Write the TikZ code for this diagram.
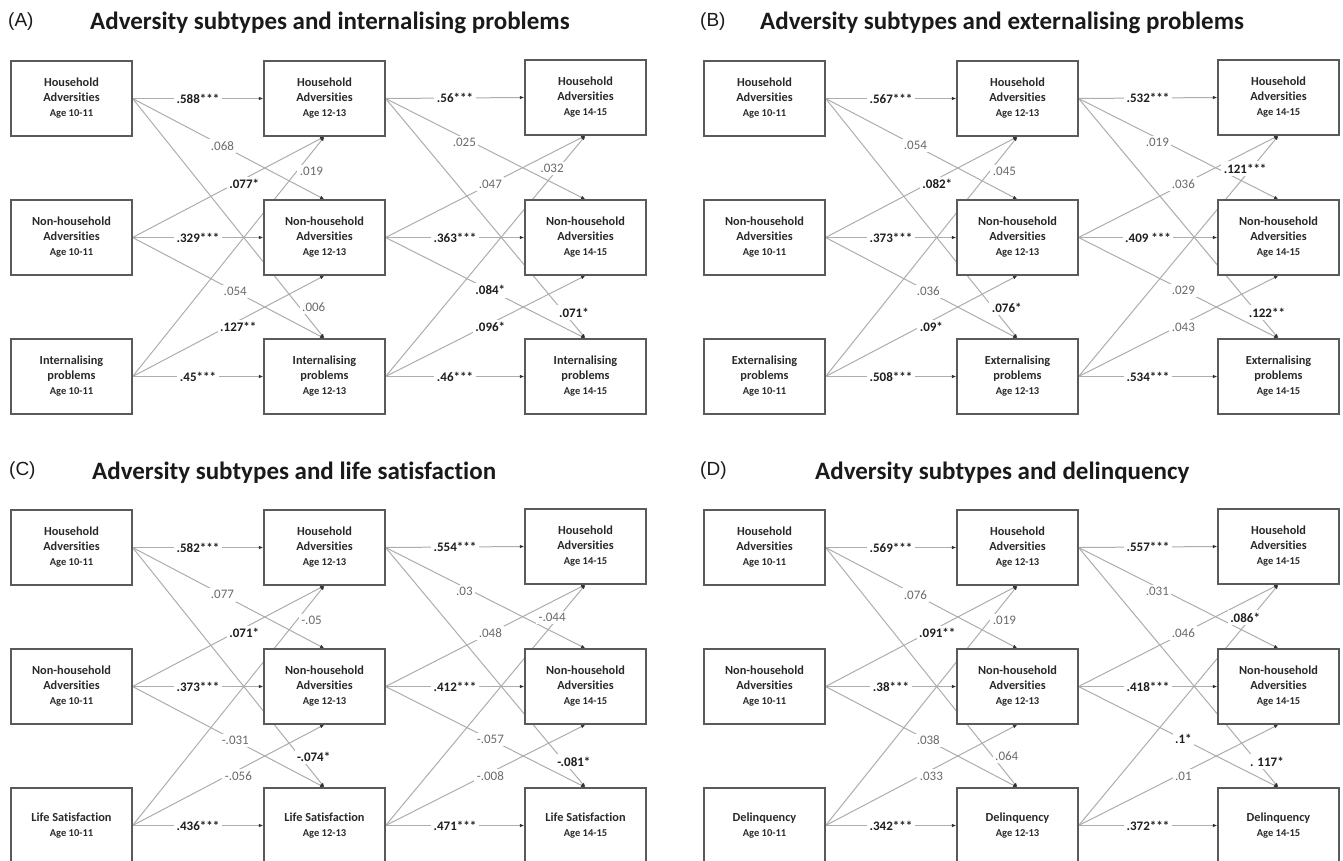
\documentclass[tikz,border=0pt]{standalone}
\usepackage{fontspec}
\setmainfont[Ligatures=NoCommon]{Carlito}
\newfontfamily\parenfont{Liberation Sans}
\usetikzlibrary{arrows.meta}

\definecolor{boxline}{HTML}{5A5A5A}
\definecolor{boxtext}{HTML}{2A2A2A}
\definecolor{pathline}{HTML}{ADADAD}
\definecolor{tipcol}{HTML}{333333}
\definecolor{nscol}{HTML}{6A6A6A}
\definecolor{sigcol}{HTML}{1E1E1E}
\definecolor{titlecol}{HTML}{1A1A1A}

\pgfdeclarelayer{paper}
\pgfdeclarelayer{lines}
\pgfdeclarelayer{labels}
\pgfsetlayers{paper,lines,main,labels}

% significant coefficients are set in bold and darker
\newcommand\sig{\bfseries\color{sigcol}}
% smaller type for the age line inside a box
\newcommand\agel[1]{{\fontsize{10.5}{14}\selectfont #1}}

% one path: the line goes behind the boxes, its coefficient on top of everything
\newcommand\pathlink[4][]{%
  \begin{pgfonlayer}{lines}\draw[conn] (#2) -- (#3);\end{pgfonlayer}%
  \begin{pgfonlayer}{labels}\path (#2) -- node[coef,#1]{#4} (#3);\end{pgfonlayer}}

% coefficients of the first wave-to-wave block and of the second one
\newcommand\setcoefsL[9]{\def\cfA{#1}\def\cfB{#2}\def\cfC{#3}\def\cfD{#4}\def\cfE{#5}\def\cfF{#6}\def\cfG{#7}\def\cfH{#8}\def\cfI{#9}}
\newcommand\setcoefsR[9]{\def\cfJ{#1}\def\cfK{#2}\def\cfL{#3}\def\cfM{#4}\def\cfN{#5}\def\cfO{#6}\def\cfP{#7}\def\cfQ{#8}\def\cfR{#9}}

% a 3 x 3 cross-lagged panel: #1 name prefix, #2 offset, #3 third variable
\newcommand\drawpanel[3]{%
\begin{scope}[shift={#2}]
  \node[varbox] (#1h1) at (71.5,98.5)  {Household\\Adversities\\\agel{Age 10-11}};
  \node[varbox] (#1n1) at (71.5,237.5) {Non-household\\Adversities\\\agel{Age 10-11}};
  \node[varbox] (#1i1) at (71.5,376.5) {#3\\\agel{Age 10-11}};
  \node[varbox] (#1h2) at (324.5,98.5)  {Household\\Adversities\\\agel{Age 12-13}};
  \node[varbox] (#1n2) at (324.5,237.5) {Non-household\\Adversities\\\agel{Age 12-13}};
  \node[varbox] (#1i2) at (324.5,376.5) {#3\\\agel{Age 12-13}};
  \node[varbox] (#1h3) at (585.5,97.5)  {Household\\Adversities\\\agel{Age 14-15}};
  \node[varbox] (#1n3) at (585.5,237.5) {Non-household\\Adversities\\\agel{Age 14-15}};
  \node[varbox] (#1i3) at (585.5,376.5) {#3\\\agel{Age 14-15}};
\end{scope}
  % age 10-11 -> age 12-13
  \pathlink{#1h1.east}{#1h2.west}{\cfA}
  \pathlink[pos=.468]{#1h1.east}{#1n2.north}{\cfB}
  \pathlink[pos=.871,xshift=14pt]{#1h1.east}{#1i2.north}{\cfC}
  \pathlink[pos=.582,yshift=-5pt]{#1n1.east}{#1h2.south}{\cfD}
  \pathlink{#1n1.east}{#1n2.west}{\cfE}
  \pathlink[pos=.535]{#1n1.east}{#1i2.north}{\cfF}
  \pathlink[pos=.854,xshift=15pt]{#1i1.east}{#1h2.south}{\cfG}
  \pathlink[pos=.551,yshift=-6pt]{#1i1.east}{#1n2.south}{\cfH}
  \pathlink{#1i1.east}{#1i2.west}{\cfI}
  % age 12-13 -> age 14-15
  \pathlink{#1h2.east}{#1h3.west}{\cfJ}
  \pathlink[pos=.394,yshift=-4.5pt]{#1h2.east}{#1n3.north}{\cfK}
  \pathlink[pos=.892,xshift=10pt]{#1h2.east}{#1i3.north}{\cfL}
  \pathlink[pos=.524]{#1n2.east}{#1h3.south}{\cfM}
  \pathlink{#1n2.east}{#1n3.west}{\cfN}
  \pathlink[pos=.524]{#1n2.east}{#1i3.north}{\cfO}
  \pathlink[pos=.863,xshift=-6pt]{#1i2.east}{#1h3.south}{\cfP}
  \pathlink[pos=.524,yshift=-3.5pt]{#1i2.east}{#1n3.south}{\cfQ}
  \pathlink{#1i2.east}{#1i3.west}{\cfR}
}

\tikzset{
  varbox/.style={draw=boxline, line width=1.2pt, fill=white,
    minimum width=121pt, minimum height=75pt, inner sep=0pt,
    align=center, text=boxtext, font=\fontsize{12.3}{15}\selectfont\bfseries},
  conn/.style={draw=pathline, line width=1pt,
    -{Latex[length=4.5pt,width=3.5pt,color=tipcol]}},
  coef/.style={fill=white, inner sep=2.5pt, text=nscol,
    font=\fontsize{13}{15}\selectfont},
  paneltag/.style={anchor=west, inner sep=0pt, text=titlecol,
    font=\parenfont\fontsize{19}{22}\selectfont},
  paneltitle/.style={anchor=west, inner sep=0pt, text=titlecol,
    font=\fontsize{25}{30}\selectfont\bfseries},
}

\begin{document}
\begin{tikzpicture}[x=1pt,y=-1pt]
\useasboundingbox (0,0) rectangle (1343,860);
\begin{pgfonlayer}{paper}
  \fill[white] (0,0) rectangle (1343,860);
\end{pgfonlayer}

% panel titles
\node[paneltag]   (tagA)   at (8,22)   {(A)};
\node[paneltitle] (titleA) at (90,23)  {Adversity subtypes and internalising problems};
\node[paneltag]   (tagB)   at (700,22) {(B)};
\node[paneltitle] (titleB) at (760,23) {Adversity subtypes and externalising problems};
\node[paneltag]   (tagC)   at (9,471)  {(C)};
\node[paneltitle] (titleC) at (92,473) {Adversity subtypes and life satisfaction};
\node[paneltag]   (tagD)   at (700,471) {(D)};
\node[paneltitle] (titleD) at (815,473) {Adversity subtypes and delinquency};

% (A) internalising problems
\setcoefsL{\sig .588***}{.068}{.006}{\sig .077*}{\sig .329***}{.054}{.019}{\sig .127**}{\sig .45***}
\setcoefsR{\sig .56***}{.025}{\sig .071*}{.047}{\sig .363***}{\sig .084*}{.032}{\sig .096*}{\sig .46***}
\drawpanel{A}{(0,0)}{Internalising\\problems}

% (B) externalising problems
\setcoefsL{\sig .567***}{.054}{\sig .076*}{\sig .082*}{\sig .373***}{.036}{.045}{\sig .09*}{\sig .508***}
\setcoefsR{\sig .532***}{.019}{\sig .122**}{.036}{\sig .409 ***}{.029}{\sig .121***}{.043}{\sig .534***}
\drawpanel{B}{(693,0)}{Externalising\\problems}

% (C) life satisfaction
\setcoefsL{\sig .582***}{.077}{\sig -.074*}{\sig .071*}{\sig .373***}{-.031}{-.05}{-.056}{\sig .436***}
\setcoefsR{\sig .554***}{.03}{\sig -.081*}{.048}{\sig .412***}{-.057}{-.044}{-.008}{\sig .471***}
\drawpanel{C}{(0,449)}{Life Satisfaction}

% (D) delinquency
\setcoefsL{\sig .569***}{.076}{.064}{\sig .091**}{\sig .38***}{.038}{.019}{.033}{\sig .342***}
\setcoefsR{\sig .557***}{.031}{\sig . 117*}{.046}{\sig .418***}{\sig .1*}{\sig .086*}{.01}{\sig .372***}
\drawpanel{D}{(693,449)}{Delinquency}
\end{tikzpicture}
\end{document}
